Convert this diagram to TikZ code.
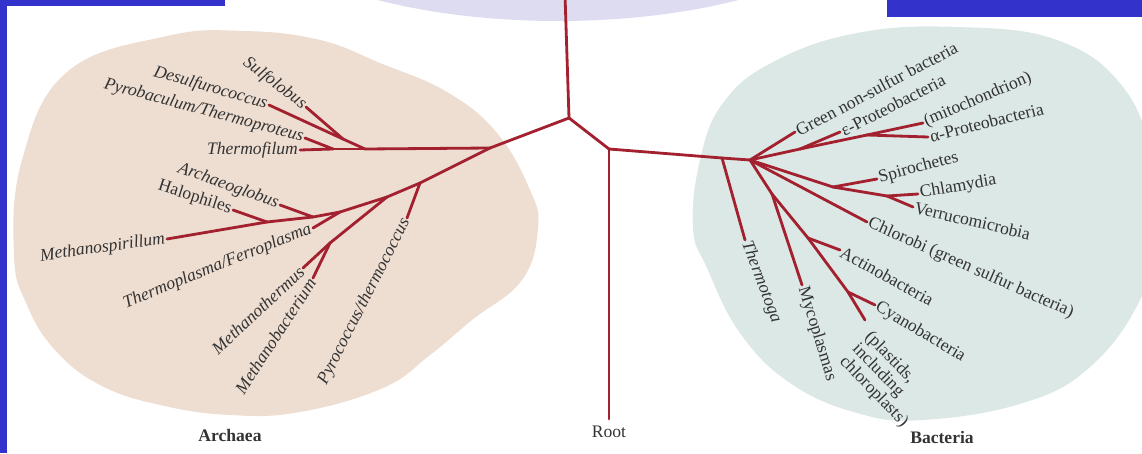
\documentclass[tikz,border=0pt]{standalone}
\usepackage{fontspec}
\setmainfont{Liberation Serif}
\usetikzlibrary{positioning}
\definecolor{branchred}{HTML}{A3202E}
\definecolor{archfill}{HTML}{EEDDD1}
\definecolor{bactfill}{HTML}{DCE8E6}
\definecolor{eukfill}{HTML}{DEDCF0}
\definecolor{framebar}{HTML}{3333CC}
\definecolor{labeltext}{HTML}{333333}
\tikzset{
  branch/.style={draw=branchred, line width=1.6pt, line cap=round, line join=round},
  taxon/.style={font=\fontsize{10}{12}\selectfont, text=labeltext, inner sep=1pt},
  genus/.style={taxon, font=\fontsize{10}{12}\selectfont\itshape},
  domainlabel/.style={font=\fontsize{10}{12}\selectfont\bfseries, text=labeltext, inner sep=1pt}
}

\begin{document}
\begin{tikzpicture}[x=0.02cm,y=-0.02cm]
  \useasboundingbox (0,0) rectangle (1142,453);
  % shaded domains
  \fill[eukfill] (558,-100) ellipse [x radius=320, y radius=121];
  \fill[archfill] plot[smooth cycle, tension=0.7] coordinates {
    (14,255) (22,160) (67,72) (167,36) (245,31) (320,40) (380,63) (447,92)
    (497,133) (530,190) (538,228) (522,280) (472,320) (430,355) (383,388)
    (300,412) (230,415) (160,405) (100,385) (55,350) (27,305)};
  \fill[bactfill] plot[smooth cycle, tension=0.7] coordinates {
    (693,228) (700,160) (723,103) (773,62) (857,33) (957,27) (1057,40)
    (1123,87) (1152,160) (1155,235) (1140,300) (1090,367) (1023,403)
    (923,420) (857,413) (790,383) (740,333) (707,268)};
  \fill[framebar] (0,0) rectangle (7,453);
  \fill[framebar] (0,0) rectangle (225,6);
  \fill[framebar] (887,0) rectangle (1142,17);

  % branch points
  \coordinate (top) at (565,-5);
  \coordinate (ja) at (569,118);
  \coordinate (jb) at (609,149);
  \coordinate (rootend) at (609,419);
  \coordinate (ar1) at (490,148);
  \coordinate (ar2) at (365,149);
  \coordinate (ar3) at (333,149);
  \coordinate (ar4) at (343,139);
  \coordinate (ar5) at (420,183);
  \coordinate (ar6) at (387,197);
  \coordinate (ar7) at (340,212);
  \coordinate (ar8) at (313,217);
  \coordinate (ar9) at (267,222);
  \coordinate (ar10) at (330,243);
  \coordinate (tj) at (722,158);
  \coordinate (hb) at (750,160);
  \coordinate (pr1) at (800,149);
  \coordinate (pr2) at (867,135);
  \coordinate (sp1) at (833,187);
  \coordinate (sp2) at (887,196);
  \coordinate (my1) at (772,194);
  \coordinate (cy1) at (808,238);
  \coordinate (cy2) at (848,292);

  % leaves
  \coordinate (sulfolobus) at (306,107);
  \coordinate (desulfuro) at (269,105);
  \coordinate (pyrobac) at (305,138);
  \coordinate (thermofil) at (300,150);
  \coordinate (archaeog) at (280,205);
  \coordinate (halo) at (233,210);
  \coordinate (methspir) at (167,239);
  \coordinate (thermopl) at (313,228);
  \coordinate (meththerm) at (303,268);
  \coordinate (methbact) at (313,278);
  \coordinate (pyrococ) at (407,218);
  \coordinate (thermotoga) at (745,240);
  \coordinate (greenns) at (795,132);
  \coordinate (epsilon) at (840,132);
  \coordinate (mito) at (923,123);
  \coordinate (alpha) at (928,137);
  \coordinate (spiro) at (877,179);
  \coordinate (chlam) at (918,194);
  \coordinate (verru) at (913,207);
  \coordinate (chlorobi) at (867,222);
  \coordinate (myco) at (802,285);
  \coordinate (actino) at (840,250);
  \coordinate (cyano) at (875,305);
  \coordinate (plastid) at (865,320);

  \foreach \a/\b in {top/ja, ja/jb, jb/rootend,
      ja/ar1, ar1/ar2, ar2/ar3, ar3/thermofil, ar3/pyrobac, ar2/ar4, ar4/desulfuro, ar4/sulfolobus,
      ar1/ar5, ar5/ar6, ar6/ar7, ar7/ar8, ar8/ar9, ar9/methspir, ar5/pyrococ, ar6/ar10,
      ar10/meththerm, ar10/methbact, ar7/thermopl, ar8/archaeog, ar9/halo,
      jb/tj, tj/hb, tj/thermotoga, hb/greenns, hb/pr1, pr1/pr2, pr1/epsilon, pr2/mito, pr2/alpha,
      hb/sp1, sp1/spiro, sp1/sp2, sp2/chlam, sp2/verru, hb/chlorobi,
      hb/my1, my1/myco, my1/cy1, cy1/actino, cy1/cy2, cy2/cyano, cy2/plastid}
    \draw[branch] (\a) -- (\b);

  % archaea names
  \node[genus, anchor=east, rotate=-37] (lsulfolobus) at (sulfolobus) {Sulfolobus};
  \node[genus, anchor=east, rotate=-16] (ldesulfuro) at (desulfuro) {Desulfurococcus};
  \node[genus, anchor=east, rotate=-15] (lpyrobac) at (pyrobac) {Pyrobaculum/Thermoproteus};
  \node[genus, anchor=east] (lthermofil) at (thermofil) {Thermofilum};
  \node[genus, anchor=east, rotate=-20] (larchaeog) at (archaeog) {Archaeoglobus};
  \node[taxon, anchor=east, rotate=-18] (lhalo) at (halo) {Halophiles};
  \node[genus, anchor=east, rotate=8] (lmethspir) at (methspir) {Methanospirillum};
  \node[genus, anchor=east, rotate=22] (lthermopl) at (thermopl) {Thermoplasma/Ferroplasma};
  \node[genus, anchor=east, rotate=43] (lmeththerm) at (meththerm) {Methanothermus};
  \node[genus, anchor=east, rotate=57] (lmethbact) at (methbact) {Methanobacterium};
  \node[genus, anchor=east, rotate=63] (lpyrococ) at (pyrococ) {Pyrococcus/thermococcus};

  % bacteria names
  \node[genus, anchor=west, rotate=-69] (lthermotoga) at (thermotoga) {Thermotoga};
  \node[taxon, anchor=west, rotate=28] (lgreenns) at (greenns) {Green non-sulfur bacteria};
  \node[taxon, anchor=west, rotate=27] (lepsilon) at (epsilon) {ε-Proteobacteria};
  \node[taxon, anchor=west, rotate=23] (lmito) at (mito) {(mitochondrion)};
  \node[taxon, anchor=west, rotate=14] (lalpha) at (alpha) {α-Proteobacteria};
  \node[taxon, anchor=west, rotate=15] (lspiro) at (spiro) {Spirochetes};
  \node[taxon, anchor=west, rotate=10] (lchlam) at (chlam) {Chlamydia};
  \node[taxon, anchor=west, rotate=-13] (lverru) at (verru) {Verrucomicrobia};
  \node[taxon, anchor=west, rotate=-24] (lchlorobi) at (chlorobi) {Chlorobi (green sulfur bacteria)};
  \node[taxon, anchor=west, rotate=-73] (lmyco) at (myco) {Mycoplasmas};
  \node[taxon, anchor=west, rotate=-29] (lactino) at (actino) {Actinobacteria};
  \node[taxon, anchor=west, rotate=-31] (lcyano) at (cyano) {Cyanobacteria};
  \node[taxon, font=\fontsize{10}{9}\selectfont, anchor=north west, rotate=-46, align=left,
    inner sep=0pt, xshift=0.24cm] (lplastid) at (plastid)
    {(plastids,\\including\\chloroplasts)};

  % domain labels
  \node[taxon, below=3pt of rootend] (lroot) {Root};
  \node[domainlabel] (larchaea) at (230,435) {Archaea};
  \node[domainlabel] (lbacteria) at (942,437) {Bacteria};
\end{tikzpicture}
\end{document}
